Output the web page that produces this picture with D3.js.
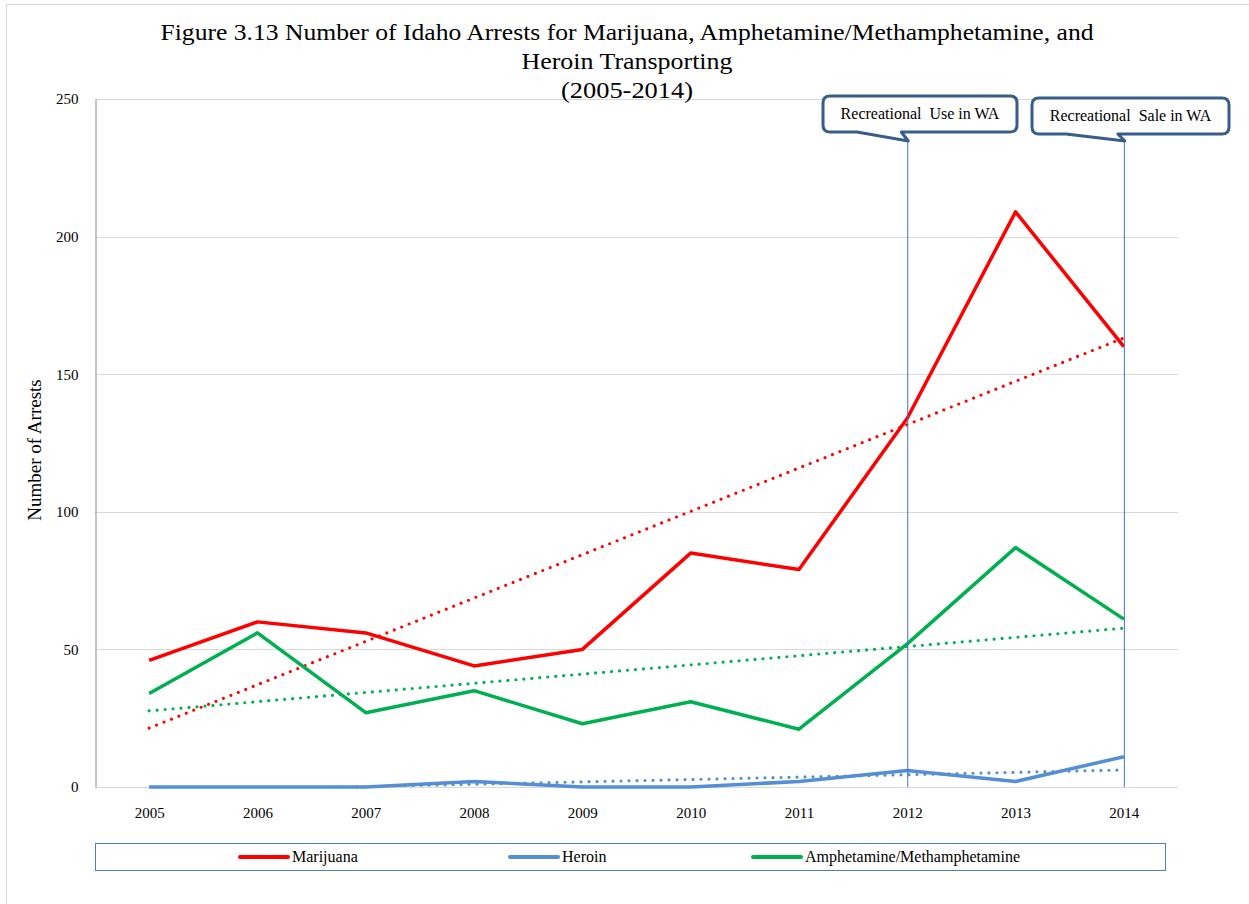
<!DOCTYPE html>
<html>
<head>
<meta charset="utf-8">
<script src="https://cdn.jsdelivr.net/npm/d3@7"></script>
<style>
  body { margin: 0; background: #fff; }
  text { font-family: "Liberation Serif", "Times New Roman", serif; fill: #000; }
</style>
</head>
<body>
<svg width="1249" height="904"></svg>
<script>
// data
var years = ["2005","2006","2007","2008","2009","2010","2011","2012","2013","2014"];
var marijuana = [46, 60, 56, 44, 50, 85, 79, 134, 209, 160];
var heroin = [0, 0, 0, 2, 0, 0, 2, 6, 2, 11];
var amphet = [34, 56, 27, 35, 23, 31, 21, 52, 87, 61];
var yTicks = [0, 50, 100, 150, 200, 250];
var titleLines = ["Figure 3.13 Number of Idaho Arrests for Marijuana, Amphetamine/Methamphetamine, and",
                  "Heroin Transporting", "(2005-2014)"];
var titleWidths = [933, 211, 132];
var markers = [{year: "2012", label: "Recreational  Use in WA"},
               {year: "2014", label: "Recreational  Sale in WA"}];

var series = [
  {name: "Marijuana", values: marijuana, color: "#FF0000"},
  {name: "Heroin", values: heroin, color: "#558ED5"},
  {name: "Amphetamine/Methamphetamine", values: amphet, color: "#00B050"}
];

var svg = d3.select("svg");
var plotL = 95, plotR = 1178, plotT = 99, plotB = 787;

// outer frame
svg.append("rect").attr("x", 6.5).attr("y", 4.5).attr("width", 1260).attr("height", 920)
  .attr("fill", "none").attr("stroke", "#d9d9d9");

// trend lines are clipped to the plot area, as in the spreadsheet chart
svg.append("defs").append("clipPath").attr("id", "plotClip")
  .append("rect").attr("x", plotL).attr("y", plotT).attr("width", plotR - plotL).attr("height", plotB - plotT);

var x = d3.scalePoint().domain(years).range([plotL, plotR]).padding(0.5);
var y = d3.scaleLinear().domain([0, 250]).range([plotB, plotT]);

// gridlines
svg.append("g").selectAll("line").data(yTicks).enter().append("line")
  .attr("x1", plotL).attr("x2", plotR)
  .attr("y1", function(d){ return Math.round(y(d)) + 0.5; })
  .attr("y2", function(d){ return Math.round(y(d)) + 0.5; })
  .attr("stroke", "#d9d9d9").attr("stroke-width", 1);

// y axis
var yAxis = svg.append("g").attr("transform", "translate(" + (plotL + 0.5) + ",0)")
  .call(d3.axisLeft(y).tickValues(yTicks).tickSize(0).tickPadding(17));
yAxis.select(".domain").attr("stroke", "#8c8c8c");
yAxis.selectAll("text").style("font-size", "15px").style("font-family", "Liberation Serif");

// x axis labels
var xAxis = svg.append("g").attr("transform", "translate(0," + plotB + ")")
  .call(d3.axisBottom(x).tickSize(0).tickPadding(20));
xAxis.select(".domain").remove();
xAxis.selectAll("text").style("font-size", "15px").style("font-family", "Liberation Serif");

// y label
svg.append("text").attr("transform", "translate(41,450) rotate(-90)")
  .attr("text-anchor", "middle").style("font-size", "19px").text("Number of Arrests");

// title
svg.append("g").selectAll("text").data(titleLines).enter().append("text")
  .attr("x", 627).attr("y", function(d, i){ return 40 + i * 29; })
  .attr("text-anchor", "middle").style("font-size", "23px")
  .attr("textLength", function(d, i){ return titleWidths[i]; })
  .attr("lengthAdjust", "spacingAndGlyphs")
  .text(function(d){ return d; });

var line = d3.line().x(function(d, i){ return x(years[i]); }).y(function(d){ return y(d); });

// linear trend lines
function trend(vals) {
  var n = vals.length, mx = (n - 1) / 2, my = d3.mean(vals), sxy = 0, sxx = 0;
  vals.forEach(function(v, i){ sxy += (i - mx) * (v - my); sxx += (i - mx) * (i - mx); });
  var b = sxy / sxx, a = my - b * mx;
  return [[0, a], [n - 1, a + b * (n - 1)]];
}

var trendG = svg.append("g").attr("clip-path", "url(#plotClip)");
series.forEach(function(s) {
  var t = trend(s.values);
  trendG.append("line")
    .attr("x1", x(years[t[0][0]])).attr("y1", y(t[0][1]))
    .attr("x2", x(years[t[1][0]])).attr("y2", y(t[1][1]))
    .attr("stroke", s.color).attr("stroke-width", 3.2)
    .attr("stroke-linecap", "round").attr("stroke-dasharray", "0 8");
});

series.forEach(function(s) {
  svg.append("path").datum(s.values).attr("d", line)
    .attr("fill", "none").attr("stroke", s.color).attr("stroke-width", 3.5)
    .attr("stroke-linejoin", "round");
});

// vertical marker lines and callouts
markers.forEach(function(m, i) {
  var mx = x(m.year);
  svg.append("line").attr("x1", mx + 0.5).attr("x2", mx + 0.5).attr("y1", 141).attr("y2", plotB)
    .attr("stroke", "#4472C4").attr("stroke-width", 1);
  var bx = i === 0 ? 823 : 1032, by = i === 0 ? 96 : 98, bw = i === 0 ? 194 : 197, bh = 36, r = 7;
  var tipX = mx + 1, tipY = 141;
  var p1 = bx + 34, p2 = mx - 6;
  var d = "M" + (bx + r) + "," + by + " H" + (bx + bw - r) +
    " Q" + (bx + bw) + "," + by + " " + (bx + bw) + "," + (by + r) +
    " V" + (by + bh - r) + " Q" + (bx + bw) + "," + (by + bh) + " " + (bx + bw - r) + "," + (by + bh) +
    " H" + p2 + " L" + tipX + "," + tipY + " L" + p1 + "," + (by + bh) +
    " H" + (bx + r) + " Q" + bx + "," + (by + bh) + " " + bx + "," + (by + bh - r) +
    " V" + (by + r) + " Q" + bx + "," + by + " " + (bx + r) + "," + by + " Z";
  svg.append("path").attr("d", d).attr("fill", "#fff")
    .attr("stroke", "#385D8A").attr("stroke-width", 3).attr("stroke-linejoin", "round");
  svg.append("text").attr("x", bx + bw / 2).attr("y", by + 23).attr("text-anchor", "middle")
    .style("font-size", "16px").style("white-space", "pre").text(m.label);
});

// legend
svg.append("rect").attr("x", 95.5).attr("y", 843.5).attr("width", 1070).attr("height", 27)
  .attr("fill", "none").attr("stroke", "#4F81BD").attr("stroke-width", 1);
var legX = [240, 510, 753];
series.forEach(function(s, i) {
  var g = svg.append("g").attr("transform", "translate(" + legX[i] + ",857)");
  g.append("line").attr("x1", 0).attr("x2", 48).attr("y1", 0).attr("y2", 0)
    .attr("stroke", s.color).attr("stroke-width", 4).attr("stroke-linecap", "round");
  g.append("text").attr("x", 52).attr("y", 5).style("font-size", "16px").text(s.name);
});
</script>
</body>
</html>
